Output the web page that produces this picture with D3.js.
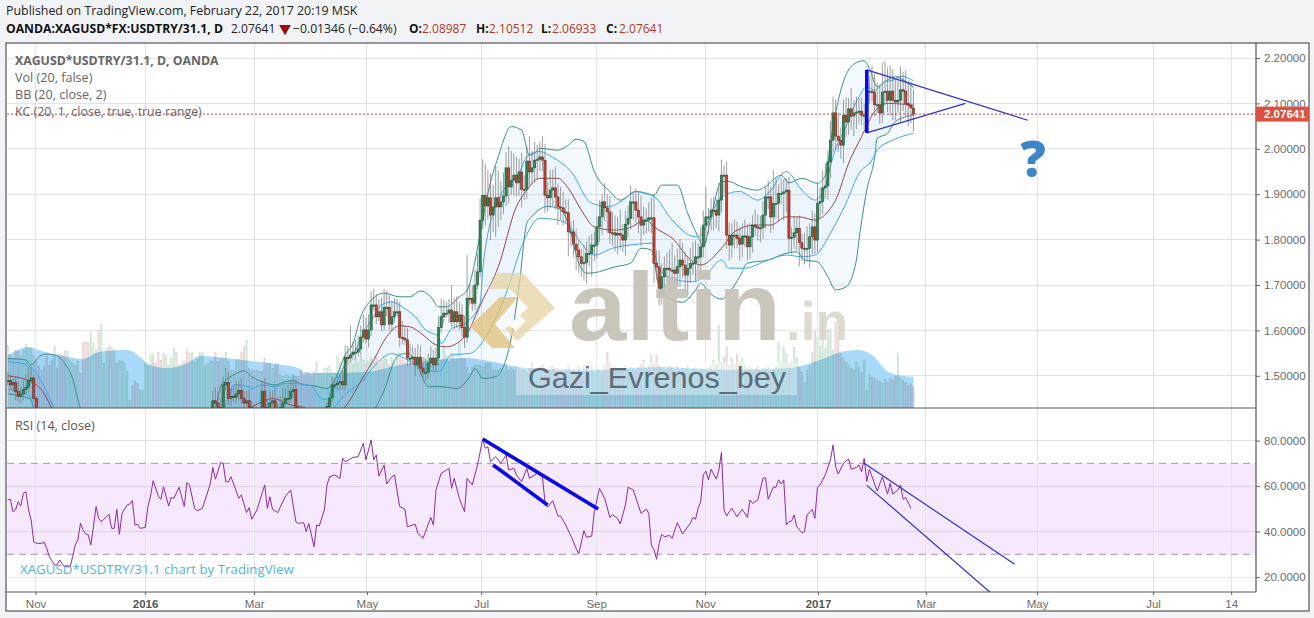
<!DOCTYPE html>
<html><head><meta charset="utf-8">
<script src="https://cdnjs.cloudflare.com/ajax/libs/d3/7.8.5/d3.min.js"></script>
<style>html,body{margin:0;padding:0;background:#f1f3f6;overflow:hidden}svg{display:block}
text{font-family:"Open Sans",sans-serif}</style></head><body><svg id="c" width="1314" height="618"></svg>
<script>
// ---- tick labels ----
const priceTicks=[2.2,2.1,2.0,1.9,1.8,1.7,1.6,1.5];
const rsiTicks=[80,60,40,20];
const timeTickBars=[10.7,52.9,94.9,138.4,182.4,226.7,268.7,312.2,353.8,396.6,441.3,471.4];
const timeTickLabels=["Nov","2016","Mar","May","Jul","Sep","Nov","2017","Mar","May","Jul","14"];
const boldTimeLabels=["2016","2017"];
const lastPrice=2.07641;
// ---- daily closes by bar ----
const closes=[1.490,1.480,1.485,1.465,1.455,1.460,1.470,1.475,1.490,1.495,
1.450,1.420,1.405,1.390,1.385,1.380,1.370,1.365,1.370,1.360,
1.355,1.350,1.345,1.350,1.360,1.375,1.370,1.385,1.380,1.375,
1.370,1.365,1.375,1.385,1.380,1.375,1.380,1.385,1.390,1.380,
1.378,1.385,1.372,1.382,1.388,1.390,1.392,1.395,1.380,1.378,
1.375,1.378,1.380,1.388,1.395,1.405,1.395,1.392,1.390,1.395,
1.385,1.388,1.390,1.392,1.396,1.385,1.392,1.395,1.388,1.380,
1.376,1.378,1.380,1.385,1.388,1.392,1.398,1.405,1.412,1.445,
1.440,1.430,1.425,1.480,1.485,1.450,1.455,1.452,1.460,1.468,
1.450,1.440,1.445,1.430,1.420,1.410,1.410,1.405,1.465,1.430,
1.420,1.440,1.445,1.420,1.410,1.430,1.440,1.450,1.450,1.465,
1.470,1.430,1.410,1.400,1.395,1.390,1.385,1.380,1.375,1.385,
1.390,1.400,1.410,1.432,1.451,1.480,1.480,1.484,1.487,1.480,
1.541,1.539,1.546,1.552,1.552,1.559,1.585,1.601,1.581,1.601,
1.656,1.656,1.630,1.641,1.612,1.651,1.651,1.614,1.630,1.641,
1.641,1.585,1.583,1.579,1.539,1.539,1.541,1.524,1.541,1.517,
1.508,1.508,1.528,1.539,1.524,1.539,1.606,1.630,1.638,1.638,
1.645,1.619,1.641,1.619,1.634,1.606,1.585,1.671,1.671,1.660,
1.700,1.729,1.843,1.897,1.874,1.892,1.854,1.872,1.892,1.872,
1.883,1.896,1.958,1.916,1.931,1.942,1.925,1.949,1.911,1.911,
1.973,1.949,1.958,1.975,1.977,1.982,1.975,1.898,1.892,1.909,
1.914,1.894,1.872,1.870,1.861,1.859,1.817,1.817,1.790,1.777,
1.762,1.748,1.749,1.770,1.770,1.788,1.788,1.828,1.850,1.883,
1.870,1.861,1.815,1.815,1.810,1.814,1.810,1.799,1.834,1.847,
1.883,1.883,1.865,1.850,1.832,1.843,1.843,1.848,1.848,1.748,
1.740,1.693,1.718,1.737,1.737,1.733,1.733,1.726,1.740,1.755,
1.744,1.722,1.737,1.748,1.748,1.762,1.762,1.784,1.832,1.850,
1.850,1.865,1.865,1.854,1.887,1.942,1.942,1.810,1.788,1.810,
1.810,1.803,1.790,1.808,1.808,1.784,1.806,1.832,1.828,1.826,
1.826,1.854,1.894,1.894,1.850,1.880,1.880,1.902,1.902,1.905,
1.909,1.803,1.805,1.815,1.825,1.793,1.781,1.781,1.781,1.806,
1.828,1.799,1.880,1.884,1.914,1.918,1.971,2.019,2.079,2.028,
2.019,2.008,2.074,2.059,2.088,2.072,2.079,2.081,2.083,2.074,
2.074,2.125,2.127,2.125,2.097,2.097,2.079,2.125,2.127,2.107,
2.127,2.107,2.103,2.107,2.130,2.127,2.100,2.096,2.090,2.07641];
// ---- wick lengths by bar, thousandths of a price unit ----
const wickUp=[18,12,10,14,22,16,20,26,30,24,
8,6,5,6,4,5,6,4,5,6,5,4,6,5,4,5,6,4,5,6,5,4,5,6,4,5,6,5,4,6,
5,4,5,6,4,5,6,5,4,5,6,4,5,6,5,4,6,5,4,5,6,4,5,6,5,4,5,6,4,5,
6,5,4,6,5,4,5,6,4,22,30,26,20,18,32,24,16,22,28,20,
26,18,22,24,14,18,20,16,24,30,18,26,22,28,20,26,34,24,30,26,
32,22,5,4,6,5,4,5,6,5,4,5,6,10,14,18,14,22,16,31,
26,24,66,22,28,30,26,34,28,34,30,36,24,28,32,40,36,26,34,30,
28,22,36,28,26,32,24,20,28,26,24,30,22,26,18,24,26,40,30,26,
24,55,30,34,28,24,26,95,32,28,34,40,48,80,70,62,54,48,70,60,
45,52,35,48,64,48,40,29,42,30,34,55,38,40,32,32,46,36,30,45,
40,46,30,44,36,28,30,24,26,34,22,18,40,26,38,24,30,22,36,18,
42,30,34,46,38,36,52,24,30,28,36,22,30,40,46,30,26,34,44,52,
28,36,30,26,34,42,60,32,40,46,38,28,26,34,46,36,30,44,32,66,
20,26,30,24,38,34,22,30,28,26,34,30,24,28,36,26,30,22,34,28,
26,30,24,36,22,73,56,20,34,28,26,30,22,36,24,28,20,34,48,30,
36,30,44,30,38,50,26,42,36,30,52,28,34,40,24,46,28,34,30,30,
26,38,34,56,40,48,44,64,66,52,56,48,46,44,50,40,46,50,52,40,
24,26,30,28,32,26,34,24,24,22,20,18,24,18,16,18,14,12,16,12];
const wickDown=[12,10,14,18,12,16,14,10,12,8,
6,5,4,5,6,4,5,6,5,4,6,5,4,5,6,4,5,6,5,4,5,6,4,5,6,5,4,6,5,4,
5,6,4,5,6,5,4,5,6,4,5,6,5,4,6,5,4,5,6,4,5,6,5,4,5,6,4,5,6,5,
4,6,5,4,5,6,4,5,6,14,10,12,8,10,12,14,16,10,12,14,
12,10,8,10,12,8,10,12,10,14,10,12,8,10,12,14,10,8,12,10,
14,12,6,5,4,6,5,4,5,6,5,4,6,8,10,12,8,14,16,10,
12,14,10,12,16,10,14,12,10,18,14,12,16,10,14,12,20,14,16,12,
10,22,14,12,18,16,14,24,10,16,12,20,14,10,12,14,16,12,14,10,
22,12,16,14,18,20,24,12,16,18,14,10,12,20,44,30,55,38,66,44,
30,26,22,36,18,34,30,28,40,24,22,30,26,32,44,26,24,40,30,22,
36,28,40,26,30,22,54,32,28,44,36,30,38,46,28,52,36,30,34,40,
30,46,24,28,36,42,32,26,34,30,24,40,28,36,46,22,30,26,34,44,
28,38,36,42,30,48,26,34,30,44,28,36,46,32,26,40,30,34,24,40,
38,30,44,28,36,26,40,30,34,28,30,22,36,28,24,30,26,34,20,28,
32,24,30,26,36,28,34,40,24,60,44,30,34,26,40,52,28,36,30,44,
38,30,26,34,28,24,30,36,28,32,26,30,40,34,28,30,44,36,26,22,
30,28,24,20,26,18,24,22,30,26,34,44,40,24,50,44,30,46,34,38,
28,36,26,44,32,50,34,28,40,36,26,42,30,28,36,24,30,26,18,14];
// ---- volume by bar ----
const volumes=[63,53,50,58,57,52,58,64,60,60,
53,47,42,38,42,52,43,47,62,40,54,53,57,57,47,45,43,47,35,66,
66,66,76,65,58,78,84,45,60,62,61,58,45,48,47,45,37,8,23,27,
25,18,18,45,42,54,54,45,56,48,55,53,43,50,60,56,43,45,47,59,
55,56,47,50,55,56,42,45,47,47,56,47,50,50,56,47,38,38,48,49,
56,62,68,40,38,38,38,37,37,50,45,45,40,43,45,33,32,33,33,32,
33,32,32,38,33,36,36,33,37,46,35,35,40,40,42,36,35,52,45,37,
40,45,48,44,50,46,52,48,44,47,50,46,51,44,48,52,49,43,50,47,
53,55,50,47,44,49,52,46,43,48,45,50,47,42,46,50,44,48,61,52,
47,55,50,49,65,50,50,41,35,41,43,43,43,41,45,45,45,38,38,38,
40,38,44,38,40,38,42,40,38,38,36,40,46,40,38,41,43,40,36,41,
42,40,36,38,34,38,43,36,38,34,41,36,43,39,37,42,35,40,38,36,
43,56,45,38,41,37,39,40,42,38,41,39,38,41,44,48,40,42,53,44,
53,43,41,39,38,42,40,37,41,38,40,38,42,36,39,41,37,40,39,38,
40,42,48,44,83,46,51,61,42,50,44,54,46,50,42,39,41,38,40,42,
38,40,39,41,37,40,42,66,46,61,54,44,46,61,50,41,36,26,38,42,
56,78,70,62,90,60,78,79,58,86,68,54,50,46,43,40,38,46,41,36,
48,18,34,31,30,28,27,25,29,26,30,28,32,55,30,28,25,23,24,21];
// ---- volume moving average: [bar, value] ----
const volMA=[[0,53],[3,57],[8,61],[12,58],[16,55],[23,51],[29,49],[35,56],[46,58],[51,51],[54,44],[61,40],[65,41],[70,46],[74,52],[87,49],[97,46],[106,43],[112,40],[115,35],[125,35],[138,36],[151,43],[177,50],[187,46],[200,40],[225,38],[251,41],[277,38],[302,40],[307,43],[315,50],[321,56],[328,58],[333,53],[340,35],[349,31]];
// ---- Bollinger and Keltner lines: [bar, price] ----
const bbUpper=[[0,1.538],[7,1.535],[9,1.524],[12,1.542],[15,1.548],[19,1.544],[22,1.527],[25,1.494],[28,1.428],[32,1.38],[60,1.37],[78,1.40],[80,1.425],[82,1.476],[84,1.491],[87,1.502],[91,1.511],[94,1.498],[98,1.487],[103,1.480],[107,1.487],[110,1.489],[114,1.480],[118,1.478],[123,1.472],[126,1.491],[130,1.546],[133,1.571],[136,1.630],[139,1.660],[145,1.682],[151,1.674],[155,1.674],[159,1.687],[163,1.674],[166,1.652],[169,1.652],[174,1.674],[177,1.689],[183,1.843],[185,1.902],[189,1.983],[194,2.049],[198,2.041],[201,1.986],[203,1.990],[205,2.001],[212,1.997],[216,2.008],[219,2.021],[222,2.016],[226,1.950],[232,1.906],[236,1.887],[242,1.906],[249,1.898],[252,1.920],[258,1.920],[262,1.858],[266,1.806],[268,1.784],[271,1.850],[275,1.928],[278,1.928],[282,1.918],[289,1.909],[292,1.917],[298,1.942],[301,1.925],[306,1.935],[312,1.924],[315,1.942],[318,2.049],[321,2.129],[324,2.174],[328,2.192],[330,2.194],[332,2.177],[335,2.137],[339,2.152],[342,2.159],[345,2.152],[349,2.135]];
const bbLower=[[0,1.46],[8,1.450],[9,1.447],[10,1.428],[12,1.40],[40,1.30],[80,1.30],[110,1.33],[135,1.39],[142,1.432],[146,1.483],[148,1.520],[151,1.546],[154,1.550],[158,1.520],[162,1.476],[167,1.476],[173,1.472],[178,1.498],[180,1.516],[183,1.494],[188,1.498],[193,1.557],[197,1.696],[200,1.836],[202,1.851],[208,1.873],[212,1.869],[216,1.836],[220,1.748],[223,1.726],[226,1.727],[234,1.740],[240,1.748],[244,1.781],[248,1.777],[251,1.696],[256,1.667],[260,1.662],[265,1.689],[267,1.704],[270,1.685],[275,1.669],[282,1.718],[285,1.748],[293,1.755],[300,1.770],[304,1.773],[307,1.755],[312,1.751],[316,1.718],[319,1.689],[323,1.696],[327,1.755],[328,1.799],[331,1.909],[334,1.980],[335,2.023],[339,2.034],[342,2.060],[349,2.074]];
const kcUpper=[[0,1.531],[6,1.527],[10,1.513],[14,1.476],[18,1.428],[22,1.39],[50,1.37],[80,1.39],[85,1.45],[87,1.480],[93,1.476],[94,1.472],[98,1.480],[103,1.476],[107,1.483],[110,1.483],[117,1.478],[121,1.449],[123,1.449],[126,1.476],[130,1.527],[134,1.557],[137,1.594],[141,1.630],[144,1.656],[148,1.663],[152,1.652],[157,1.630],[161,1.601],[166,1.586],[167,1.571],[171,1.604],[176,1.615],[182,1.660],[183,1.733],[185,1.814],[187,1.858],[191,1.909],[197,1.946],[200,1.983],[205,1.994],[210,1.981],[217,1.950],[225,1.880],[232,1.873],[237,1.887],[242,1.906],[249,1.895],[256,1.843],[265,1.806],[267,1.810],[275,1.895],[282,1.906],[289,1.887],[293,1.902],[300,1.950],[306,1.909],[311,1.887],[315,1.917],[318,1.983],[323,2.049],[328,2.115],[331,2.137],[334,2.129],[338,2.148],[341,2.151],[344,2.160],[349,2.150]];
const kcLower=[[0,1.47],[8,1.458],[10,1.428],[12,1.40],[50,1.33],[100,1.36],[120,1.40],[126,1.432],[130,1.458],[137,1.491],[141,1.520],[148,1.549],[153,1.538],[157,1.527],[161,1.513],[166,1.509],[171,1.546],[178,1.549],[185,1.594],[192,1.681],[199,1.799],[205,1.847],[212,1.843],[216,1.832],[221,1.792],[226,1.766],[233,1.781],[243,1.790],[248,1.792],[251,1.733],[258,1.711],[264,1.707],[269,1.722],[275,1.755],[278,1.737],[284,1.737],[293,1.755],[300,1.766],[306,1.762],[311,1.766],[317,1.814],[323,1.880],[328,1.946],[333,1.975],[335,1.997],[341,2.019],[349,2.034]];
const basis=[[0,1.50],[9,1.487],[14,1.461],[17,1.428],[22,1.38],[50,1.35],[85,1.40],[93,1.428],[98,1.443],[102,1.450],[109,1.436],[115,1.428],[120,1.40],[130,1.432],[137,1.498],[141,1.535],[146,1.586],[151,1.610],[155,1.608],[160,1.590],[165,1.568],[169,1.564],[176,1.586],[183,1.667],[189,1.740],[196,1.873],[200,1.909],[205,1.935],[212,1.935],[216,1.913],[221,1.865],[226,1.828],[233,1.821],[239,1.825],[246,1.843],[249,1.828],[256,1.803],[264,1.751],[267,1.744],[275,1.781],[280,1.817],[288,1.832],[294,1.832],[300,1.850],[305,1.850],[311,1.843],[317,1.869],[319,1.887],[324,1.968],[329,2.027],[334,2.082],[339,2.100],[349,2.096]];
// ---- RSI: [bar, value] ----
const rsiSeries=[[0,53.9],[1,54.2],[2,48.7],[3,49.5],[4,53.1],[5,51.2],[6,56.8],[7,57.5],[8,49.5],[9,45.1],[10,35.5],[11,34.8],[13,34.8],[14,35.3],[15,32.6],[16,29.0],[18,25.3],[19,25.3],[20,27.5],[21,25.7],[22,24.5],[24,24.5],[25,29.0],[26,34.1],[27,36.3],[28,43.6],[29,40.7],[30,38.9],[31,38.5],[32,34.1],[33,42.1],[34,51.0],[35,45.8],[36,44.3],[37,45.4],[39,47.6],[40,41.4],[41,41.4],[42,49.8],[43,38.8],[44,48.0],[46,51.7],[47,52.1],[48,53.6],[49,42.9],[50,43.2],[51,41.4],[53,41.8],[54,51.0],[55,55.6],[56,62.4],[58,55.6],[59,54.2],[60,59.7],[62,51.2],[63,55.0],[64,54.6],[66,59.5],[68,51.0],[69,61.5],[70,60.5],[72,50.2],[73,49.2],[75,50.2],[78,60.9],[79,68.2],[80,63.0],[82,70.3],[83,70.0],[84,61.9],[85,61.9],[86,64.1],[89,54.6],[90,56.1],[92,48.3],[93,50.5],[94,45.4],[96,49.5],[99,60.5],[100,50.2],[101,55.3],[102,49.8],[104,48.3],[107,55.6],[109,58.3],[111,44.3],[112,43.6],[114,43.9],[115,39.9],[116,43.6],[118,33.3],[119,42.9],[120,42.4],[122,49.5],[123,60.5],[124,64.1],[126,64.9],[128,63.4],[129,72.2],[130,70.7],[133,72.6],[135,72.9],[137,78.8],[138,71.5],[140,80.3],[141,71.5],[142,73.7],[143,64.4],[145,69.3],[146,60.9],[148,64.1],[149,64.9],[151,51.0],[153,49.9],[154,42.1],[157,43.2],[158,39.2],[160,37.0],[163,46.2],[164,42.9],[165,58.3],[167,65.6],[170,67.8],[171,59.0],[172,63.4],[174,54.6],[176,48.7],[177,63.4],[179,60.5],[181,69.3],[183,80.6],[184,76.6],[185,77.3],[186,70.7],[188,72.9],[190,70.0],[192,73.7],[193,67.1],[195,67.8],[196,64.9],[198,61.9],[200,67.8],[201,63.4],[204,65.6],[206,64.1],[207,53.1],[208,50.7],[210,53.6],[212,46.8],[213,46.8],[215,42.9],[217,38.0],[219,32.6],[220,30.1],[222,40.4],[223,37.5],[225,38.0],[226,48.7],[228,59.0],[230,54.6],[232,46.2],[233,47.3],[235,45.8],[236,43.3],[238,51.7],[239,59.5],[241,58.3],[244,48.0],[246,49.8],[247,48.0],[248,34.0],[249,32.0],[250,27.8],[251,34.8],[252,38.8],[253,37.7],[255,38.3],[256,37.0],[258,43.9],[260,38.9],[262,42.1],[263,43.6],[264,46.2],[265,45.4],[266,50.2],[267,53.1],[268,64.9],[269,66.6],[270,62.7],[271,67.4],[273,63.1],[274,67.1],[275,74.8],[276,49.5],[277,46.8],[278,48.7],[279,50.2],[280,48.3],[281,46.5],[283,49.8],[285,46.2],[286,53.9],[287,52.4],[289,53.9],[291,63.4],[292,63.7],[293,54.2],[295,59.5],[296,59.5],[297,62.7],[298,60.9],[299,62.7],[300,42.9],[301,44.3],[302,44.6],[303,47.3],[304,42.1],[306,39.5],[307,39.9],[308,47.3],[310,49.8],[311,45.8],[312,59.5],[313,60.5],[315,64.9],[317,71.5],[318,78.1],[319,68.5],[320,65.3],[322,70.0],[323,71.0],[324,71.9],[325,67.4],[327,68.2],[328,69.3],[329,66.3],[330,72.2],[331,62.0],[332,67.4],[335,57.8],[337,64.1],[339,56.5],[340,61.2],[341,56.5],[343,58.3],[344,60.5],[345,54.2],[346,55.0],[348,50.2]];
// ---- drawn trend lines: [bar, value] pairs ----
const priceThick=[[[331,2.174],[331,2.035]]];
const priceThin=[[[331,2.174],[393,2.063]],[[331,2.035],[369,2.10]]];
const rsiThick=[[[183,80.7],[227.5,49.9]],[[187,69.3],[208,51.7]]];
const rsiThin=[[[330,70.0],[388,25.6]],[[331,60.3],[378.5,13.3]]];

const svg=d3.select("#c");
const PANE={l:7,r:1256,t:43,mid:408,b:592,outerR:1309,outerB:611};
const x=d3.scaleLinear().domain([0,349]).range([7.8,913.5]);
const y=d3.scaleLinear().domain([1.5,2.2]).range([375.8,58]);
const yR=d3.scaleLinear().domain([20,80]).range([577,440.6]);
const yV=d3.scaleLinear().domain([0,100]).range([PANE.mid,PANE.mid-100]);

svg.append("rect").attr("x",6).attr("y",PANE.t).attr("width",PANE.outerR-6).attr("height",PANE.outerB-PANE.t).attr("fill","#fff");
const defs=svg.append("defs");
defs.append("clipPath").attr("id","cm").append("rect").attr("x",PANE.l).attr("y",PANE.t).attr("width",PANE.r-PANE.l).attr("height",PANE.mid-PANE.t);
defs.append("clipPath").attr("id","cr").append("rect").attr("x",PANE.l).attr("y",PANE.mid).attr("width",PANE.r-PANE.l).attr("height",PANE.b-PANE.mid);

// grid
const grid=svg.append("g").attr("stroke","#e2e4e6").attr("stroke-width",1).attr("shape-rendering","crispEdges");
timeTickBars.forEach(b=>{grid.append("line").attr("x1",x(b)).attr("x2",x(b)).attr("y1",PANE.t).attr("y2",PANE.b);});
priceTicks.forEach(v=>{grid.append("line").attr("x1",PANE.l).attr("x2",PANE.r).attr("y1",y(v)).attr("y2",y(v));});
// RSI band
svg.append("rect").attr("x",PANE.l).attr("width",PANE.r-PANE.l).attr("y",yR(70)).attr("height",yR(30)-yR(70)).attr("fill","#f6e9fd");
rsiTicks.forEach(v=>{grid.append("line").attr("x1",PANE.l).attr("x2",PANE.r).attr("y1",yR(v)).attr("y2",yR(v)).attr("stroke",v==20||v==80?"#e2e4e6":"#dfd2e8");});
svg.node().appendChild(grid.node());
[70,30].forEach(v=>svg.append("line").attr("x1",PANE.l).attr("x2",PANE.r).attr("y1",yR(v)).attr("y2",yR(v)).attr("stroke","#a897b0").attr("stroke-dasharray","7 5").attr("stroke-width",1));

const main=svg.append("g").attr("clip-path","url(#cm)");
// volume
const bw=1.7;
main.append("path").attr("d",d3.area().x(d=>x(d[0])).y0(PANE.mid).y1(d=>yV(d[1])).curve(d3.curveMonotoneX)(volMA)).attr("fill","#a8d9f8");
const opens=closes.map((c,i)=>i?closes[i-1]:c);
main.append("g").selectAll("rect").data(volumes).join("rect")
 .attr("x",(d,i)=>x(i)-bw/2).attr("width",bw).attr("y",d=>yV(d)).attr("height",d=>PANE.mid-yV(d))
 .attr("fill",(d,i)=>closes[i]>=opens[i]?"#d6ecdc":"#efdcde")
 .attr("stroke",(d,i)=>closes[i]>=opens[i]?"#bcd8c4":"#dcc4c6").attr("stroke-width",.3)
 .style("mix-blend-mode","multiply");
// band fills
const L=d3.line().x(d=>x(d[0])).y(d=>y(d[1])).curve(d3.curveMonotoneX);
const ring=(a,b)=>L(a)+"L"+L(b.slice().reverse()).slice(1)+"Z";
main.append("path").attr("d",ring(bbUpper,bbLower)).attr("fill","#2a8fd8").attr("fill-opacity",.05);
main.append("path").attr("d",ring(kcUpper,kcLower)).attr("fill","#2196f3").attr("fill-opacity",.035);
[[bbUpper,"#3a8f88",1],[bbLower,"#3a8f88",1],[kcUpper,"#3fa6e6",1],[kcLower,"#3fa6e6",1],[basis,"#9a4448",1]].forEach(s=>{
 main.append("path").attr("d",L(s[0])).attr("fill","none").attr("stroke",s[1]).attr("stroke-width",s[2]);});
// candles
const cg=main.append("g");
closes.forEach((c,i)=>{
 const o=opens[i],hi=Math.max(o,c)+wickUp[i]/1000,lo=Math.min(o,c)-wickDown[i]/1000;
 cg.append("line").attr("x1",x(i)).attr("x2",x(i)).attr("y1",y(hi)).attr("y2",y(lo)).attr("stroke","#767676").attr("stroke-width",.7);
});
closes.forEach((c,i)=>{
 const o=opens[i],up=c>=o,t=y(Math.max(o,c)),h=Math.max(y(Math.min(o,c))-t,1.2);
 cg.append("rect").attr("x",x(i)-1.1).attr("width",2.2).attr("y",t).attr("height",h)
  .attr("fill",up?"#2b8a50":"#d2402c").attr("stroke",up?"#24543a":"#5e2a22").attr("stroke-width",.6);
});
// price line
svg.append("line").attr("x1",PANE.l).attr("x2",PANE.r).attr("y1",y(lastPrice)).attr("y2",y(lastPrice)).attr("stroke","#b5493c").attr("stroke-width",1).attr("stroke-dasharray","2 2");
// trend lines
const tlM=d3.line().x(d=>x(d[0])).y(d=>y(d[1]));
const tlR=d3.line().x(d=>x(d[0])).y(d=>yR(d[1]));
priceThin.forEach(s=>main.append("path").attr("d",tlM(s)).attr("stroke","#2f2fd0").attr("stroke-width",1.2).attr("fill","none"));
priceThick.forEach(s=>main.append("path").attr("d",tlM(s)).attr("stroke","#0a0ae6").attr("stroke-width",3.6).attr("fill","none"));
const rg=svg.append("g").attr("clip-path","url(#cr)");
rg.append("path").attr("d",d3.line().x(d=>x(d[0])).y(d=>yR(d[1])).curve(d3.curveLinear)(rsiSeries)).attr("fill","none").attr("stroke","#8a2ca0").attr("stroke-width",1);
rsiThin.forEach(s=>rg.append("path").attr("d",tlR(s)).attr("stroke","#2f2fd0").attr("stroke-width",1.2).attr("fill","none"));
rsiThick.forEach(s=>rg.append("path").attr("d",tlR(s)).attr("stroke","#0a0ae6").attr("stroke-width",3.6).attr("fill","none"));
// question mark
svg.append("text").attr("x",1033).attr("y",177).attr("text-anchor","middle").attr("font-size",50).attr("font-weight",800).attr("fill","#3d85c6").style("font-family","'Open Sans'").text("?");

// watermark
const wm=svg.append("g");
wm.append("path").attr("d","M497 273L523 273L555 308L517 341L505 329L528 308L510 289L488 289Z").attr("fill","#e6d3a2").attr("fill-opacity",.75);
wm.append("path").attr("d","M519 315L526 321L516 331L509 325Z").attr("fill","#fff").attr("fill-opacity",.9);
wm.append("path").attr("d","M470 326L500 297L518 297L495 324L515 348L492 348Z").attr("fill","#e0bf75").attr("fill-opacity",.75);
wm.append("text").attr("x",569).attr("y",340).attr("font-size",96).attr("font-weight",700).attr("textLength",212).attr("lengthAdjust","spacingAndGlyphs").attr("fill","#c5c0b4").attr("fill-opacity",.9).style("font-family","'Liberation Sans'").text("altin");
wm.append("text").attr("x",786).attr("y",340).attr("font-size",54).attr("font-weight",700).attr("textLength",62).attr("lengthAdjust","spacingAndGlyphs").attr("fill","#d8d3c8").attr("fill-opacity",.85).style("font-family","'Liberation Sans'").text(".in");
wm.append("rect").attr("x",516).attr("y",362).attr("width",281).attr("height",33).attr("fill","#fff").attr("fill-opacity",.35);
wm.append("text").attr("x",528).attr("y",388).attr("font-size",30).attr("fill","#5d6b78").attr("textLength",258).attr("lengthAdjust","spacingAndGlyphs").style("font-family","'Liberation Sans'").text("Gazi_Evrenos_bey");

// frame + axes
const frame=svg.append("g").attr("fill","none").attr("stroke","#555").attr("stroke-width",1.2);
frame.append("rect").attr("x",6).attr("y",PANE.t).attr("width",PANE.outerR-6).attr("height",PANE.outerB-PANE.t);
frame.append("line").attr("x1",6).attr("x2",PANE.r).attr("y1",PANE.mid).attr("y2",PANE.mid);
frame.append("line").attr("x1",6).attr("x2",PANE.r).attr("y1",PANE.b).attr("y2",PANE.b);
frame.append("line").attr("x1",PANE.r).attr("x2",PANE.r).attr("y1",PANE.t).attr("y2",PANE.b);

const axStyle=g=>{g.select(".domain").remove();g.selectAll("line").attr("stroke","#666");g.selectAll("text").attr("fill","#6b6b6b").style("font-family","'Liberation Sans'").attr("font-size",11.5);};
svg.append("g").attr("transform",`translate(${PANE.r},0)`).call(d3.axisRight(y).tickValues(priceTicks).tickFormat(d3.format(".5f")).tickSize(4).tickPadding(4)).call(axStyle);
svg.append("g").attr("transform",`translate(${PANE.r},0)`).call(d3.axisRight(yR).tickValues(rsiTicks).tickFormat(d3.format(".4f")).tickSize(4).tickPadding(4)).call(axStyle);
const xa=svg.append("g").attr("transform",`translate(0,${PANE.b})`).call(d3.axisBottom(x).tickValues(timeTickBars).tickFormat((d,i)=>timeTickLabels[i]).tickSize(3).tickPadding(5)).call(axStyle);
xa.selectAll("text").filter(function(){return boldTimeLabels.includes(this.textContent)}).attr("font-weight",700).attr("fill","#555");

// last price label
svg.append("rect").attr("x",PANE.r).attr("y",y(lastPrice)-7.5).attr("width",PANE.outerR-PANE.r).attr("height",15).attr("fill","#dd5140");
svg.append("text").attr("x",1264).attr("y",y(lastPrice)+4).attr("font-size",11.5).attr("font-weight",700).attr("fill","#fff").style("font-family","'Liberation Sans'").text("2.07641");

// header
const T=(px,py,s,o={})=>svg.append("text").attr("x",px).attr("y",py).attr("font-size",o.size||12).attr("font-weight",o.w||400).attr("fill",o.c||"#222").text(s);
T(6,15,"Published on TradingView.com, February 22, 2017 20:19 MSK",{size:12.4});
T(6,33,"OANDA:XAGUSD*FX:USDTRY/31.1, D",{w:700,size:12.2,c:"#111"});
T(231,33,"2.07641",{size:12});
svg.append("path").attr("d",d3.symbol().type(d3.symbolTriangle).size(60)()).attr("transform","translate(285,28.5) rotate(180)").attr("fill","#9b0c0c");
T(293,33,"−0.01346 (−0.64%)",{size:12.2});
[["O:",409,"2.08987",422],["H:",476,"2.10512",489],["L:",541,"2.06933",552],["C:",606,"2.07641",619]].forEach(a=>{T(a[1],33,a[0],{w:700,c:"#111"});T(a[3],33,a[2],{c:"#b33a2a"});});
T(15,65,"XAGUSD*USDTRY/31.1, D, OANDA",{w:700,c:"#666",size:12.3});
T(15,82,"Vol (20, false)",{c:"#666",size:12.6});
T(15,99,"BB (20, close, 2)",{c:"#666",size:12.6});
T(15,116,"KC (20, 1, close, true, true range)",{c:"#666",size:12.4});
T(15,430,"RSI (14, close)",{c:"#555",size:12.6});
T(20,574,"XAGUSD*USDTRY/31.1 chart by TradingView",{c:"#4db8d8",size:13.3});
</script></body></html>
